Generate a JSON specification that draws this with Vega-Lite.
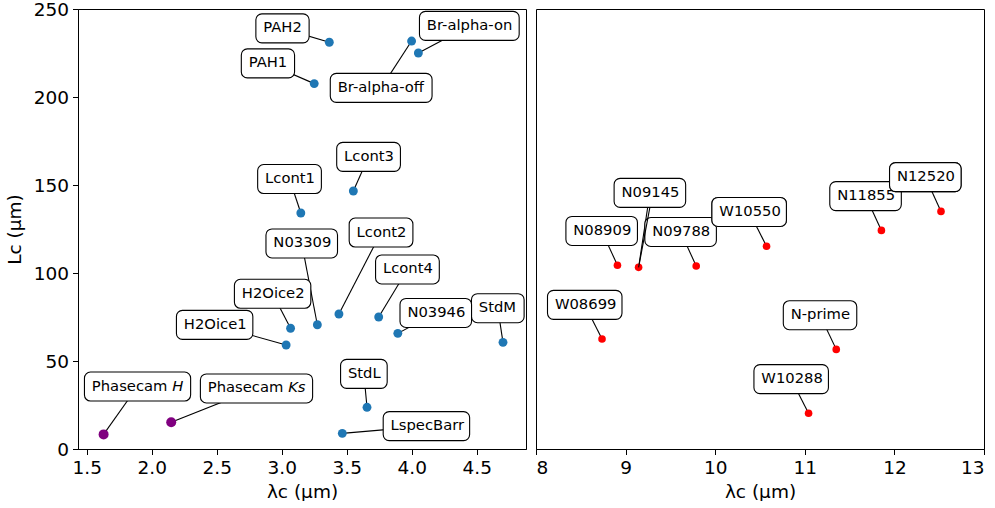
{
  "$schema": "https://vega.github.io/schema/vega-lite/v6.json",
  "padding": {"left": 4, "top": -1, "right": 0, "bottom": 0},
  "background": "white",
  "config": {
    "font": "DejaVu Sans",
    "view": {"stroke": "black", "strokeWidth": 1},
    "axis": {
      "grid": false,
      "domainColor": "black",
      "domainWidth": 1,
      "tickColor": "black",
      "tickWidth": 1,
      "tickSize": 5.5,
      "labelColor": "black",
      "labelFont": "DejaVu Sans",
      "labelFontSize": 18.5,
      "labelPadding": 4,
      "titleColor": "black",
      "titleFont": "DejaVu Sans",
      "titleFontSize": 18.5,
      "titleFontWeight": "normal"
    }
  },
  "datasets": {
    "short": [
      {"label": "Phasecam", "it": "H", "camera": "PhaseCam", "lam": 1.63, "lc": 8.3, "lx": 1.891, "ly": 35.5},
      {"label": "Phasecam", "it": "Ks", "camera": "PhaseCam", "lam": 2.15, "lc": 15.2, "lx": 2.806, "ly": 34.4},
      {"label": "H2Oice1", "it": "", "camera": "LMIRCam", "lam": 3.034, "lc": 59.1, "lx": 2.484, "ly": 70.5},
      {"label": "H2Oice2", "it": "", "camera": "LMIRCam", "lam": 3.068, "lc": 68.6, "lx": 2.93, "ly": 88.2},
      {"label": "N03309", "it": "", "camera": "LMIRCam", "lam": 3.274, "lc": 70.6, "lx": 3.154, "ly": 116.8},
      {"label": "Lcont1", "it": "", "camera": "LMIRCam", "lam": 3.147, "lc": 134.1, "lx": 3.06, "ly": 153.4},
      {"label": "Lcont2", "it": "", "camera": "LMIRCam", "lam": 3.44, "lc": 76.7, "lx": 3.764, "ly": 123.0},
      {"label": "Lcont3", "it": "", "camera": "LMIRCam", "lam": 3.551, "lc": 146.6, "lx": 3.668, "ly": 166.0},
      {"label": "Lcont4", "it": "", "camera": "LMIRCam", "lam": 3.746, "lc": 75.0, "lx": 3.967, "ly": 102.0},
      {"label": "StdM", "it": "", "camera": "LMIRCam", "lam": 4.702, "lc": 60.6, "lx": 4.662, "ly": 80.0},
      {"label": "N03946", "it": "", "camera": "LMIRCam", "lam": 3.893, "lc": 65.7, "lx": 4.185, "ly": 77.3},
      {"label": "StdL", "it": "", "camera": "LMIRCam", "lam": 3.656, "lc": 23.7, "lx": 3.632, "ly": 42.7},
      {"label": "LspecBarr", "it": "", "camera": "LMIRCam", "lam": 3.466, "lc": 8.9, "lx": 4.113, "ly": 13.0},
      {"label": "PAH1", "it": "", "camera": "LMIRCam", "lam": 3.25, "lc": 207.6, "lx": 2.894, "ly": 219.1},
      {"label": "PAH2", "it": "", "camera": "LMIRCam", "lam": 3.366, "lc": 231.1, "lx": 3.006, "ly": 239.0},
      {"label": "Br-alpha-on", "it": "", "camera": "LMIRCam", "lam": 4.051, "lc": 225.0, "lx": 4.443, "ly": 240.4},
      {"label": "Br-alpha-off", "it": "", "camera": "LMIRCam", "lam": 3.999, "lc": 231.8, "lx": 3.765, "ly": 205.2}
    ],
    "long": [
      {"label": "W08699", "it": "", "camera": "NOMIC", "lam": 8.737, "lc": 62.5, "lx": 8.544, "ly": 81.9},
      {"label": "N08909", "it": "", "camera": "NOMIC", "lam": 8.909, "lc": 104.4, "lx": 8.733, "ly": 123.9},
      {"label": "N09788", "it": "", "camera": "NOMIC", "lam": 9.788, "lc": 104.0, "lx": 9.614, "ly": 123.3},
      {"label": "N09145", "it": "", "camera": "NOMIC", "lam": 9.145, "lc": 103.2, "lx": 9.271, "ly": 145.5},
      {"label": "W10550", "it": "", "camera": "NOMIC", "lam": 10.573, "lc": 115.2, "lx": 10.379, "ly": 134.7},
      {"label": "N11855", "it": "", "camera": "NOMIC", "lam": 11.855, "lc": 124.2, "lx": 11.678, "ly": 143.7},
      {"label": "N12520", "it": "", "camera": "NOMIC", "lam": 12.52, "lc": 135.0, "lx": 12.345, "ly": 154.5},
      {"label": "N-prime", "it": "", "camera": "NOMIC", "lam": 11.351, "lc": 56.6, "lx": 11.17, "ly": 76.0},
      {"label": "W10288", "it": "", "camera": "NOMIC", "lam": 11.042, "lc": 20.3, "lx": 10.848, "ly": 39.7}
    ]
  },
  "spacing": 8,
  "hconcat": [
    {
      "width": 448,
      "height": 440,
      "data": {"name": "short"},
      "transform": [
        {"calculate": "0.62*length(datum.label) - 0.34*(length(datum.label)-length(replace(datum.label, regexp('[ilIj ]','g'), ''))) - 0.24*(length(datum.label)-length(replace(datum.label, regexp('[frt-]','g'), ''))) + 0.33*(length(datum.label)-length(replace(datum.label, regexp('[mwMW]','g'), ''))) + 0.13*(length(datum.label)-length(replace(datum.label, regexp('[NHDGOUC]','g'), ''))) - 0.08*(length(datum.label)-length(replace(datum.label, regexp('[scLz]','g'), '')))", "as": "emA"},
        {"calculate": "datum.it == '' ? 0 : 0.318 + 0.62*length(datum.it) + 0.13*(length(datum.it)-length(replace(datum.it, regexp('[NHDGOUC]','g'), ''))) - 0.08*(length(datum.it)-length(replace(datum.it, regexp('[scLz]','g'), '')))", "as": "emB"},
        {"calculate": "(datum.emA + datum.emB + 1) * 14.75 / 2 / 130", "as": "hw"},
        {"calculate": "datum.lx - datum.hw", "as": "x1"},
        {"calculate": "datum.lx + datum.hw", "as": "x2"},
        {"calculate": "datum.ly - 14.5/1.76", "as": "y1"},
        {"calculate": "datum.ly + 14.5/1.76", "as": "y2"},
        {"calculate": "datum.x1 + (datum.emA + 0.318) * 14.75 / 130", "as": "itx"}
      ],
      "encoding": {
        "x": {"field": "lam", "type": "quantitative",
              "scale": {"domain": [1.433, 4.879], "nice": false, "zero": false},
              "axis": {"values": [1.5, 2.0, 2.5, 3.0, 3.5, 4.0, 4.5], "format": ".1f", "title": "λc (μm)", "titlePadding": 5}},
        "y": {"field": "lc", "type": "quantitative",
              "scale": {"domain": [0, 250], "nice": false, "zero": true},
              "axis": {"values": [0, 50, 100, 150, 200, 250], "title": "Lc (μm)", "titlePadding": 9}}
      },
      "layer": [
        {"mark": {"type": "rule", "color": "black", "strokeWidth": 1.1},
         "encoding": {"x2": {"field": "lx"}, "y2": {"field": "ly"}}},
        {"mark": {"type": "circle", "opacity": 1},
         "encoding": {
           "color": {"field": "camera", "type": "nominal", "legend": null,
                     "scale": {"domain": ["PhaseCam", "LMIRCam", "NOMIC"], "range": ["#800080", "#1f77b4", "#ff0000"]}},
           "size": {"field": "camera", "type": "nominal", "legend": null,
                    "scale": {"domain": ["PhaseCam", "LMIRCam", "NOMIC"], "range": [100, 58, 64]}}
         }},
        {"mark": {"type": "rect", "fill": "white", "stroke": "black", "strokeWidth": 1.1, "cornerRadius": 6},
         "encoding": {"x": {"field": "x1", "type": "quantitative"}, "x2": {"field": "x2"}, "y": {"field": "y1", "type": "quantitative"}, "y2": {"field": "y2"}}},
        {"mark": {"type": "text", "align": "left", "baseline": "middle", "dx": 7.4, "fontSize": 14.75, "font": "DejaVu Sans", "color": "black"},
         "encoding": {"x": {"field": "x1", "type": "quantitative"}, "y": {"field": "ly", "type": "quantitative"}, "text": {"field": "label"}}},
        {"transform": [{"filter": "datum.it != ''"}],
         "mark": {"type": "text", "align": "left", "baseline": "middle", "dx": 7.4, "fontSize": 14.75, "font": "DejaVu Sans", "fontStyle": "italic", "color": "black"},
         "encoding": {"x": {"field": "itx", "type": "quantitative"}, "y": {"field": "ly", "type": "quantitative"}, "text": {"field": "it"}}}
      ]
    },
    {
      "width": 448,
      "height": 440,
      "data": {"name": "long"},
      "transform": [
        {"calculate": "0.62*length(datum.label) - 0.34*(length(datum.label)-length(replace(datum.label, regexp('[ilIj ]','g'), ''))) - 0.24*(length(datum.label)-length(replace(datum.label, regexp('[frt-]','g'), ''))) + 0.33*(length(datum.label)-length(replace(datum.label, regexp('[mwMW]','g'), ''))) + 0.13*(length(datum.label)-length(replace(datum.label, regexp('[NHDGOUC]','g'), ''))) - 0.08*(length(datum.label)-length(replace(datum.label, regexp('[scLz]','g'), '')))", "as": "emA"},
        {"calculate": "(datum.emA + 1) * 14.75 / 2 / 89.6", "as": "hw"},
        {"calculate": "datum.lx - datum.hw", "as": "x1"},
        {"calculate": "datum.lx + datum.hw", "as": "x2"},
        {"calculate": "datum.ly - 14.5/1.76", "as": "y1"},
        {"calculate": "datum.ly + 14.5/1.76", "as": "y2"}
      ],
      "encoding": {
        "x": {"field": "lam", "type": "quantitative",
              "scale": {"domain": [8, 13], "nice": false, "zero": false},
              "axis": {"values": [8, 9, 10, 11, 12, 13], "format": "d", "title": "λc (μm)", "titlePadding": 5}},
        "y": {"field": "lc", "type": "quantitative",
              "scale": {"domain": [0, 250], "nice": false, "zero": true},
              "axis": null}
      },
      "layer": [
        {"mark": {"type": "rule", "color": "black", "strokeWidth": 1.1},
         "encoding": {"x2": {"field": "lx"}, "y2": {"field": "ly"}}},
        {"mark": {"type": "circle", "opacity": 1},
         "encoding": {
           "color": {"field": "camera", "type": "nominal", "legend": null,
                     "scale": {"domain": ["PhaseCam", "LMIRCam", "NOMIC"], "range": ["#800080", "#1f77b4", "#ff0000"]}},
           "size": {"field": "camera", "type": "nominal", "legend": null,
                    "scale": {"domain": ["PhaseCam", "LMIRCam", "NOMIC"], "range": [100, 58, 64]}}
         }},
        {"mark": {"type": "rect", "fill": "white", "stroke": "black", "strokeWidth": 1.1, "cornerRadius": 6},
         "encoding": {"x": {"field": "x1", "type": "quantitative"}, "x2": {"field": "x2"}, "y": {"field": "y1", "type": "quantitative"}, "y2": {"field": "y2"}}},
        {"mark": {"type": "text", "align": "left", "baseline": "middle", "dx": 7.4, "fontSize": 14.75, "font": "DejaVu Sans", "color": "black"},
         "encoding": {"x": {"field": "x1", "type": "quantitative"}, "y": {"field": "ly", "type": "quantitative"}, "text": {"field": "label"}}},
        {"transform": [{"filter": {"field": "label", "oneOf": ["N09145"]}}],
         "mark": {"type": "rule", "color": "black", "strokeWidth": 1.1},
         "encoding": {"y": {"field": "lc", "type": "quantitative"}, "x2": {"field": "lx"}, "y2": {"field": "y1"}}},
        {"transform": [{"filter": {"field": "label", "oneOf": ["W10550", "N12520"]}}],
         "mark": {"type": "rect", "fill": "white", "stroke": "black", "strokeWidth": 1.1, "cornerRadius": 6},
         "encoding": {"x": {"field": "x1", "type": "quantitative"}, "x2": {"field": "x2"}, "y": {"field": "y1", "type": "quantitative"}, "y2": {"field": "y2"}}},
        {"transform": [{"filter": {"field": "label", "oneOf": ["W10550", "N12520"]}}],
         "mark": {"type": "text", "align": "left", "baseline": "middle", "dx": 7.4, "fontSize": 14.75, "font": "DejaVu Sans", "color": "black"},
         "encoding": {"x": {"field": "x1", "type": "quantitative"}, "y": {"field": "ly", "type": "quantitative"}, "text": {"field": "label"}}}
      ]
    }
  ]
}
